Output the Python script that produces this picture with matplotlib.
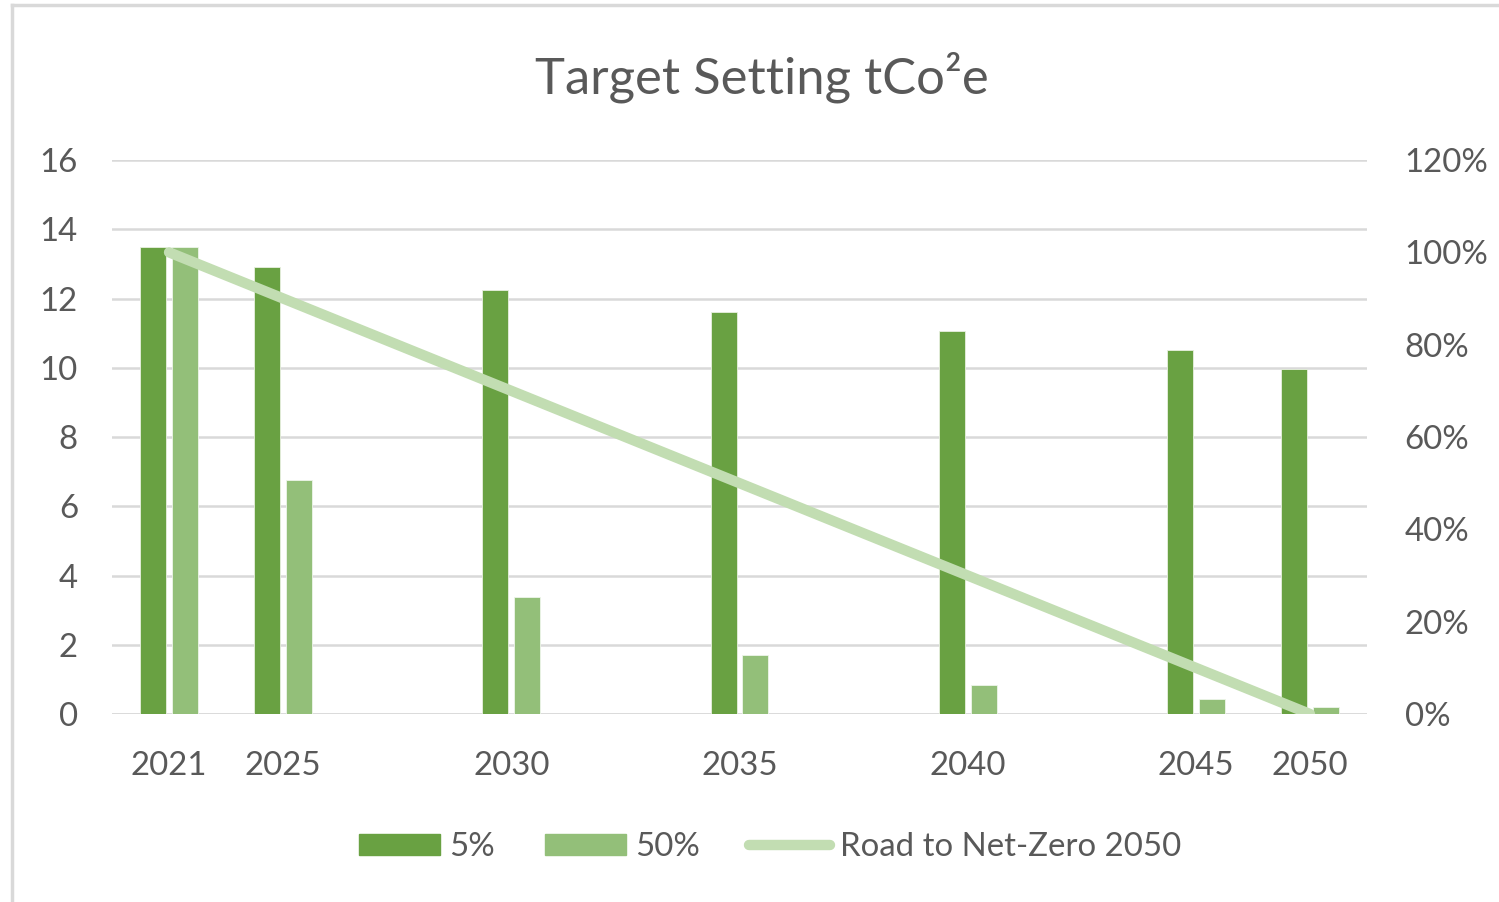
import matplotlib
matplotlib.use("Agg")
import matplotlib.pyplot as plt
import numpy as np
from matplotlib.lines import Line2D

plt.rcParams['font.family'] = ['Lato', 'DejaVu Sans']

# Data (category axis with empty slots, as in the original Excel chart)
categories = ["2021", "2025", "", "2030", "", "2035", "", "2040", "", "2045", "2050"]
series_5 = [13.5, 12.9, np.nan, 12.25, np.nan, 11.6, np.nan, 11.05, np.nan, 10.5, 9.95]
series_50 = [13.5, 6.75, np.nan, 3.38, np.nan, 1.69, np.nan, 0.84, np.nan, 0.42, 0.21]
road_pct = [100, 90, np.nan, 70, np.nan, 50, np.nan, 30, np.nan, 10, 0]

title = "Target Setting tCo²e"
left_ticks = [0, 2, 4, 6, 8, 10, 12, 14, 16]
right_ticks = [0, 20, 40, 60, 80, 100, 120]

c_dark = "#69A142"
c_light = "#93BF79"
c_line = "#C2DDB2"
c_text = "#595959"
c_grid = "#D9D9D9"

fs = 23.8

fig = plt.figure(figsize=(14.99, 9.02), dpi=100)
ax = fig.add_axes([112/1499, 1-714/902, (1367-112)/1499, (714-160)/902])
ax2 = ax.twinx()

x = np.arange(len(categories))
w = 0.228
off = 0.14
ax.bar(x - off, series_5, width=w, color=c_dark, edgecolor="#E8F0E0", linewidth=0.6, zorder=3, label="5%")
ax.bar(x + off, series_50, width=w, color=c_light, edgecolor="#EEF5EA", linewidth=0.6, zorder=3, label="50%")

road = np.array(road_pct, dtype=float)
mask = ~np.isnan(road)
ax2.plot(x[mask], road[mask], color=c_line, lw=7.5, solid_capstyle='round', zorder=4)

ax.set_xlim(-0.5, len(categories) - 0.5)
ax.set_ylim(0, 16)
ax2.set_ylim(0, 120)
ax.set_yticks(left_ticks)
ax.set_yticklabels([str(t) for t in left_ticks])
ax2.set_yticks(right_ticks)
ax2.set_yticklabels([f"{t}%" for t in right_ticks])
ax.set_xticks(x)
ax.set_xticklabels(categories)

for a in (ax, ax2):
    for s in a.spines.values():
        s.set_visible(False)
    a.tick_params(length=0, colors=c_text, labelsize=fs)
ax.tick_params(axis='y', pad=24.5)
ax2.tick_params(axis='y', pad=27)
ax.tick_params(axis='x', pad=26.5)

ax.yaxis.grid(True, color=c_grid, lw=1.8, zorder=0)
ax.set_axisbelow(True)
ax.axhline(0, color=c_grid, lw=1.8, zorder=2)
ax2.set_zorder(ax.get_zorder() + 1)
ax2.patch.set_visible(False)

fig.text(762/1499, 1-77/902, title, ha='center', va='center', fontsize=36.5, color=c_text)

# chart border (partially visible at left and top)
fig.add_artist(Line2D([12/1499, 12/1499], [0, 1-5/902], transform=fig.transFigure, color="#D9D9D9", lw=2.5))
fig.add_artist(Line2D([12/1499, 1], [1-5/902, 1-5/902], transform=fig.transFigure, color="#D9D9D9", lw=2.5))

handles = [
    plt.Rectangle((0, 0), 1, 1, color=c_dark),
    plt.Rectangle((0, 0), 1, 1, color=c_light),
    Line2D([0], [0], color=c_line, lw=7.5, solid_capstyle='round'),
]
labels = ["5%", "50%", "Road to Net-Zero 2050"]
leg = fig.legend(handles, labels, loc='center', bbox_to_anchor=(770/1499, 1-847/902), ncol=3,
                 frameon=False, fontsize=fs, handlelength=2.45, handleheight=0.6,
                 handletextpad=0.28, columnspacing=1.5, labelcolor=c_text)

fig.savefig("out.png", dpi=100)
